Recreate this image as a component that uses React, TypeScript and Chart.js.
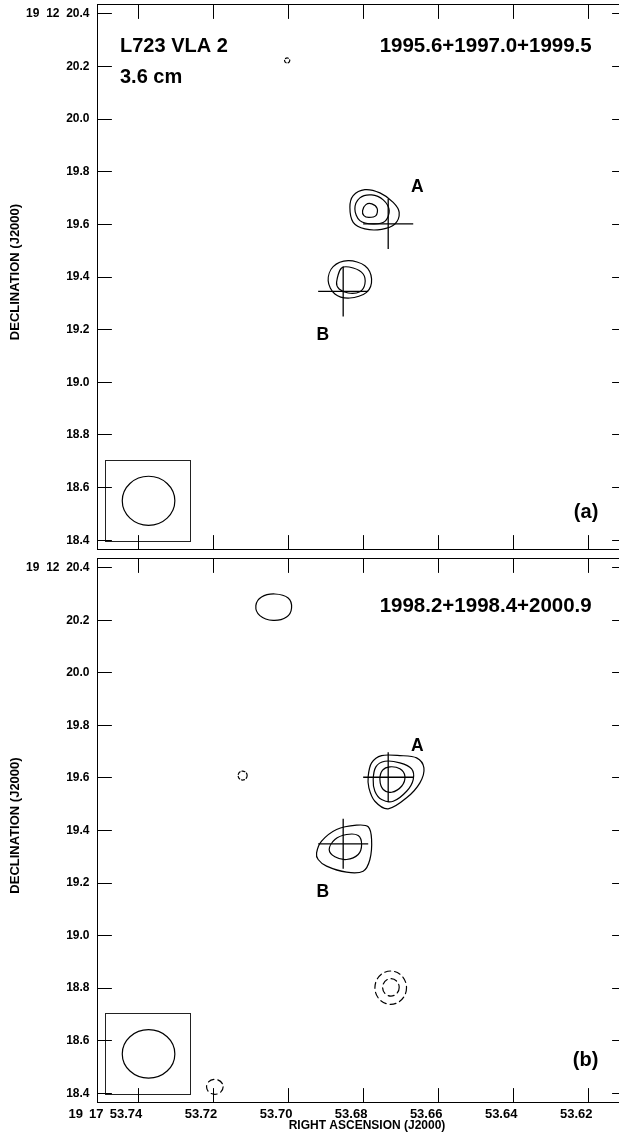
import React, { useEffect, useRef } from "react";
import { Chart, registerables } from "chart.js";
Chart.register(...registerables);

// ---- axes ----
const RA_MIN = 53.61013;
const RA_MAX = 53.75101;
const DEC_MIN = 18.365;
const DEC_MAX = 20.435;
const raTicks = [53.74, 53.72, 53.7, 53.68, 53.66, 53.64, 53.62];
const raTickLabels = ["19 \u200917 \u200953.74", "53.72", "53.70", "53.68", "53.66", "53.64", "53.62"];
const decTicks = [18.4, 18.6, 18.8, 19.0, 19.2, 19.4, 19.6, 19.8, 20.0, 20.2, 20.4];
const decTickLabels = ["18.4", "18.6", "18.8", "19.0", "19.2", "19.4", "19.6", "19.8", "20.0", "20.2", "19  12  20.4"];

// ---- panel (a) contours [RA s, Dec arcsec] ----
const aSourceAOuter = [[53.68373, 19.6646], [53.68285, 19.7091], [53.67973, 19.7319], [53.67573, 19.7194], [53.67219, 19.6837], [53.67059, 19.6456], [53.67173, 19.6015], [53.67528, 19.581], [53.67973, 19.5825], [53.68285, 19.6076]];
const aSourceAMid = [[53.6824, 19.6586], [53.68107, 19.7004], [53.67795, 19.7118], [53.67485, 19.6928], [53.67325, 19.6521], [53.6744, 19.6114], [53.67752, 19.6015], [53.68107, 19.6141]];
const aSourceAInner = [[53.68035, 19.6521], [53.67947, 19.6749], [53.67787, 19.6776], [53.67645, 19.6597], [53.6768, 19.6331], [53.67867, 19.6266], [53.68, 19.6331]];
const aSourceBOuter = [[53.68952, 19.3859], [53.68819, 19.4392], [53.68419, 19.462], [53.67973, 19.443], [53.67795, 19.3924], [53.67928, 19.3415], [53.68373, 19.3202], [53.68773, 19.3354]];
const aSourceBInner = [[53.68728, 19.3795], [53.68595, 19.4342], [53.68285, 19.4342], [53.68019, 19.4114], [53.67973, 19.3734], [53.68107, 19.3441], [53.68419, 19.3392], [53.68659, 19.3544]];

// ---- panel (b) contours ----
const bSourceAOuter = [[53.67885, 19.6065], [53.67795, 19.6574], [53.67528, 19.6852], [53.6704, 19.6852], [53.66595, 19.6764], [53.664, 19.6384], [53.66507, 19.5814], [53.66861, 19.5243], [53.67352, 19.4825], [53.67707, 19.5114], [53.67867, 19.5624]];
const bSourceAMid = [[53.67752, 19.5939], [53.6768, 19.6422], [53.6744, 19.6635], [53.6704, 19.6574], [53.66728, 19.6346], [53.66685, 19.5939], [53.66861, 19.5494], [53.67219, 19.5114], [53.67528, 19.5179], [53.67707, 19.5494]];
const bSourceAInner = [[53.67573, 19.5939], [53.67501, 19.6293], [53.67307, 19.6422], [53.6704, 19.6346], [53.66907, 19.6065], [53.66995, 19.5684], [53.67261, 19.5456], [53.67485, 19.5559]];
const bSourceBOuter = [[53.69261, 19.3152], [53.69128, 19.3593], [53.68728, 19.4038], [53.68195, 19.4202], [53.67885, 19.4141], [53.67795, 19.3658], [53.6784, 19.2897], [53.68019, 19.2452], [53.68461, 19.2414], [53.68995, 19.2643], [53.69219, 19.2897]];
const bSourceBInner = [[53.68925, 19.3278], [53.68773, 19.3658], [53.68461, 19.3848], [53.68152, 19.381], [53.68061, 19.3468], [53.68152, 19.3087], [53.68461, 19.2897], [53.68773, 19.3]];
const bNorthBlob = [[53.7088, 20.2555], [53.70728, 20.2886], [53.70373, 20.3], [53.70019, 20.2848], [53.69928, 20.2468], [53.70061, 20.2125], [53.70419, 20.1996], [53.70773, 20.2175]];

// ---- source positions (crosses) ----
const crossLabels = ["A", "B"];
const aCrossRa = [53.67352, 53.68552];
const aCrossDec = [19.6015, 19.3452];
const bCrossRa = [53.67352, 53.68552];
const bCrossDec = [19.6027, 19.3494];
const crossHalfRa = 0.00667;
const crossHalfDec = 0.095;
const aLabelRa = [53.66573, 53.69093];
const aLabelDec = [19.7433, 19.1844];
const bLabelRa = [53.66573, 53.69093];
const bLabelDec = [19.7232, 19.168];

// ---- ellipses: [ra, dec, radiusRa, radiusDec, dashed] ----
const aEllipses = [
  [53.7374, 18.55, 0.00701, 0.0932, 0],
  [53.70045, 20.2224, 0.0007, 0.0095, 1],
];
const bEllipses = [
  [53.7374, 18.55, 0.00701, 0.092, 0],
  [53.71232, 19.6091, 0.0012, 0.0171, 1],
  [53.67285, 18.8019, 0.00421, 0.0635, 1],
  [53.6728, 18.803, 0.00221, 0.0331, 1],
  [53.71973, 18.4247, 0.00221, 0.0285, 1],
];
const beamBoxRa = [53.749, 53.7263];
const beamBoxDec = [18.394, 18.702];

const FONT = "'Liberation Sans', Arial, Helvetica, sans-serif";

function closedCurve(ctx: CanvasRenderingContext2D, pts: { x: number; y: number }[]) {
  const n = pts.length;
  ctx.beginPath();
  ctx.moveTo(pts[0].x, pts[0].y);
  for (let i = 0; i < n; i++) {
    const p0 = pts[(i - 1 + n) % n], p1 = pts[i], p2 = pts[(i + 1) % n], p3 = pts[(i + 2) % n];
    ctx.bezierCurveTo(
      p1.x + (p2.x - p0.x) / 6, p1.y + (p2.y - p0.y) / 6,
      p2.x - (p3.x - p1.x) / 6, p2.y - (p3.y - p1.y) / 6,
      p2.x, p2.y
    );
  }
  ctx.closePath();
  ctx.stroke();
}

const crisp = (v: number) => Math.round(v - 0.5) + 0.5;

const mapPlugin = {
  id: "mapDraw",
  afterDatasetsDraw(chart: any) {
    const o = chart.options.plugins.mapDraw;
    const { ctx, chartArea: ca } = chart;
    const xs = chart.scales.x, ys = chart.scales.y;
    ctx.save();
    ctx.strokeStyle = "#000";
    ctx.lineCap = "round";
    // contours (points positioned by the library)
    chart.data.datasets.forEach((ds: any, i: number) => {
      if (!ds.contour) return;
      const meta = chart.getDatasetMeta(i);
      const pts = meta.data.map((p: any) => ({ x: p.x, y: p.y }));
      ctx.lineWidth = 1.2;
      ctx.setLineDash(ds.dashed ? [5, 3] : []);
      closedCurve(ctx, pts);
    });
    ctx.setLineDash([]);
    // ellipses
    o.ellipses.forEach((e: number[]) => {
      const cx = xs.getPixelForValue(e[0]);
      const cy = ys.getPixelForValue(e[1]);
      const rx = Math.abs(xs.getPixelForValue(e[0] + e[2]) - cx);
      const ry = Math.abs(ys.getPixelForValue(e[1] + e[3]) - cy);
      ctx.lineWidth = 1.2;
      ctx.setLineDash(e[4] ? (rx < 6 ? [3, 2] : [6, 4]) : []);
      ctx.beginPath();
      ctx.ellipse(cx, cy, rx, ry, 0, 0, Math.PI * 2);
      ctx.stroke();
    });
    ctx.setLineDash([]);
    // beam box
    const bx1 = crisp(xs.getPixelForValue(beamBoxRa[0]));
    const bx2 = crisp(xs.getPixelForValue(beamBoxRa[1]));
    const by1 = crisp(ys.getPixelForValue(beamBoxDec[1]));
    const by2 = crisp(ys.getPixelForValue(beamBoxDec[0]));
    ctx.lineWidth = 1;
    ctx.strokeStyle = "#222";
    ctx.strokeRect(bx1, by1, bx2 - bx1, by2 - by1);
    // frame and inward ticks
    ctx.strokeStyle = "#000";
    const L = crisp(ca.left), R = crisp(ca.right), T = crisp(ca.top), B = crisp(ca.bottom);
    ctx.strokeRect(L, T, R - L, B - T);
    ctx.beginPath();
    raTicks.forEach((v) => {
      const px = crisp(xs.getPixelForValue(v));
      ctx.moveTo(px, T); ctx.lineTo(px, T + 14);
      ctx.moveTo(px, B); ctx.lineTo(px, B - 14);
    });
    decTicks.forEach((v) => {
      const py = crisp(ys.getPixelForValue(v));
      ctx.moveTo(L, py); ctx.lineTo(L + 14, py);
      ctx.moveTo(R, py); ctx.lineTo(R - 14, py);
    });
    ctx.stroke();
    // texts
    ctx.fillStyle = "#000";
    ctx.textBaseline = "alphabetic";
    o.texts.forEach((t: any) => {
      ctx.font = `bold ${t.size}px ${FONT}`;
      ctx.textAlign = t.align;
      ctx.fillText(t.text, ca.left + t.dx, ca.top + t.dy);
    });
    // source labels
    ctx.font = `bold 17.5px ${FONT}`;
    ctx.textAlign = "center";
    ctx.textBaseline = "middle";
    o.labelRa.forEach((ra: number, i: number) => {
      ctx.fillText(crossLabels[i], xs.getPixelForValue(ra), ys.getPixelForValue(o.labelDec[i]) + 1);
    });
    // axis titles
    ctx.font = `bold 13px ${FONT}`;
    ctx.save();
    ctx.translate(15, (ca.top + ca.bottom) / 2 - 5);
    ctx.rotate(-Math.PI / 2);
    ctx.textAlign = "center";
    ctx.textBaseline = "middle";
    ctx.fillText("DECLINATION (J2000)", 0, 0);
    ctx.restore();
    if (o.xTitle) {
      ctx.font = `bold 12px ${FONT}`;
      ctx.textAlign = "center";
      ctx.textBaseline = "middle";
      ctx.fillText("RIGHT ASCENSION (J2000)", 367, ca.bottom + 23.5);
    }
    ctx.restore();
  },
};

const toPts = (arr: number[][]) => arr.map((p) => ({ x: p[0], y: p[1] }));

const zeroPad = (s: any) => {
  s.paddingTop = 0; s.paddingBottom = 0; s.paddingLeft = 0; s.paddingRight = 0;
};

function makeConfig(p: any) {
  const datasets: any[] = [];
  p.contours.forEach((c: number[][]) => {
    datasets.push({ data: toPts(c), contour: true, dashed: false, showLine: false, pointRadius: 0, pointHoverRadius: 0 });
  });
  p.crossRa.forEach((ra: number, i: number) => {
    const dec = p.crossDec[i];
    datasets.push({ data: [{ x: ra + crossHalfRa, y: dec }, { x: ra - crossHalfRa, y: dec }], showLine: true, borderColor: "#000", borderWidth: 1.3, pointRadius: 0, pointHoverRadius: 0 });
    datasets.push({ data: [{ x: ra, y: dec + crossHalfDec }, { x: ra, y: dec - crossHalfDec }], showLine: true, borderColor: "#000", borderWidth: 1.3, pointRadius: 0, pointHoverRadius: 0 });
  });
  return {
    type: "scatter" as const,
    data: { datasets },
    options: {
      responsive: false,
      animation: false as const,
      devicePixelRatio: 1,
      events: [],
      layout: { padding: { left: 0, right: 14, top: p.padTop, bottom: 0 } },
      plugins: {
        legend: { display: false },
        tooltip: { enabled: false },
        mapDraw: { ellipses: p.ellipses, texts: p.texts, labelRa: p.labelRa, labelDec: p.labelDec, xTitle: p.showX },
      },
      scales: {
        x: {
          type: "linear",
          position: "bottom",
          reverse: true,
          min: RA_MIN,
          max: RA_MAX,
          afterBuildTicks: (s: any) => { s.ticks = raTicks.map((v) => ({ value: v })); },
          afterFit: (s: any) => { s.height = p.xHeight; zeroPad(s); },
          grid: { display: false, drawTicks: false },
          border: { display: false },
          ticks: {
            display: p.showX, autoSkip: false, maxRotation: 0, minRotation: 0,
            align: "end", labelOffset: 3.5, padding: 4, color: "#000",
            font: { family: FONT, size: 13, weight: "bold" },
            callback: (_v: any, i: number) => raTickLabels[i],
          },
        },
        y: {
          type: "linear",
          position: "left",
          min: DEC_MIN,
          max: DEC_MAX,
          afterBuildTicks: (s: any) => { s.ticks = decTicks.map((v) => ({ value: v })); },
          afterFit: (s: any) => { s.width = 97.5; zeroPad(s); },
          grid: { display: false, drawTicks: false },
          border: { display: false },
          ticks: {
            autoSkip: false, padding: 8, color: "#000",
            font: { family: FONT, size: 12, weight: "bold" },
            callback: (_v: any, i: number) => decTickLabels[i],
          },
        },
      },
    },
    plugins: [mapPlugin],
  };
}

const panelA = {
  contours: [aSourceAOuter, aSourceAMid, aSourceAInner, aSourceBOuter, aSourceBInner],
  crossRa: aCrossRa, crossDec: aCrossDec,
  labelRa: aLabelRa, labelDec: aLabelDec,
  ellipses: aEllipses,
  padTop: 4.5, xHeight: 6.5, showX: false,
  texts: [
    { text: "L723 VLA 2", size: 20, align: "left", dx: 22.5, dy: 47.8 },
    { text: "3.6 cm", size: 20, align: "left", dx: 22.5, dy: 78.2 },
    { text: "1995.6+1997.0+1999.5", size: 20.5, align: "right", dx: 494.2, dy: 47.8 },
    { text: "(a)", size: 20, align: "right", dx: 500.8, dy: 513 },
  ],
};

const panelB = {
  contours: [bSourceAOuter, bSourceAMid, bSourceAInner, bSourceBOuter, bSourceBInner, bNorthBlob],
  crossRa: bCrossRa, crossDec: bCrossDec,
  labelRa: bLabelRa, labelDec: bLabelDec,
  ellipses: bEllipses,
  padTop: 2.5, xHeight: 34.5, showX: true,
  texts: [
    { text: "1998.2+1998.4+2000.9", size: 20.5, align: "right", dx: 494.2, dy: 53 },
    { text: "(b)", size: 20, align: "right", dx: 500.8, dy: 507 },
  ],
};

export default function App() {
  const refA = useRef<HTMLCanvasElement>(null);
  const refB = useRef<HTMLCanvasElement>(null);
  useEffect(() => {
    const ca = new Chart(refA.current as HTMLCanvasElement, makeConfig(panelA) as any);
    const cb = new Chart(refB.current as HTMLCanvasElement, makeConfig(panelB) as any);
    return () => { ca.destroy(); cb.destroy(); };
  }, []);
  return (
    <div style={{ position: "absolute", left: 0, top: 0, width: 619, height: 1137, overflow: "hidden", background: "#fff" }}>
      <canvas ref={refA} width={640} height={556} style={{ position: "absolute", left: 0, top: 0, width: 640, height: 556 }} />
      <canvas ref={refB} width={640} height={581} style={{ position: "absolute", left: 0, top: 556, width: 640, height: 581 }} />
    </div>
  );
}
